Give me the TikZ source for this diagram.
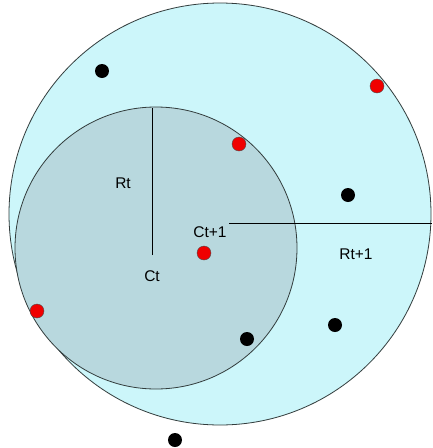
\documentclass[tikz,border=0pt]{standalone}
\usepackage{fontspec}
\setmainfont{Liberation Sans}
\definecolor{bigfill}{RGB}{204,246,250}
\definecolor{smallfill}{RGB}{184,216,222}
\definecolor{edge}{RGB}{50,60,60}
\definecolor{reddot}{RGB}{240,0,0}
\begin{document}
\begin{tikzpicture}[x=1pt,y=-1pt,
  ring/.style={draw=edge,line width=0.8pt},
  rdot/.style={circle,fill=reddot,draw=black!70,line width=0.4pt,inner sep=0pt,minimum size=14pt},
  bdot/.style={circle,fill=black,inner sep=0pt,minimum size=14pt},
  lbl/.style={font=\fontsize{15.5}{18}\selectfont,inner sep=0pt},
  radius line/.style={draw=black,line width=0.8pt}]
\useasboundingbox (0,0) rectangle (432,448);
\fill[white] (0,0) rectangle (432,448);
% circles
\draw[ring,fill=bigfill] (220,214) circle[radius=211];
\draw[ring,fill=smallfill] (156,248) circle[radius=141];
% radii
\coordinate (ct) at (152,255);
\coordinate (ttop) at (152,108);
\coordinate (ct1) at (229,223);
\coordinate (redge) at (432,223);
\draw[radius line] (ct) -- (ttop);
\draw[radius line] (ct1) -- (redge);
% labels
\node[lbl] (rt) at (123,183) {Rt};
\node[lbl] (ctl) at (152,276) {Ct};
\node[lbl] (ct1l) at (210,232) {Ct+1};
\node[lbl] (rt1l) at (356,254) {Rt+1};
% red points
\node[rdot] (r1) at (204,253) {};
\node[rdot] (r2) at (239,144) {};
\node[rdot] (r3) at (377,86) {};
\node[rdot] (r4) at (37,311) {};
% black points
\node[bdot] (b1) at (102,71) {};
\node[bdot] (b2) at (348,195) {};
\node[bdot] (b3) at (335,325) {};
\node[bdot] (b4) at (247,339) {};
\node[bdot] (b5) at (175,440) {};
\end{tikzpicture}
\end{document}
